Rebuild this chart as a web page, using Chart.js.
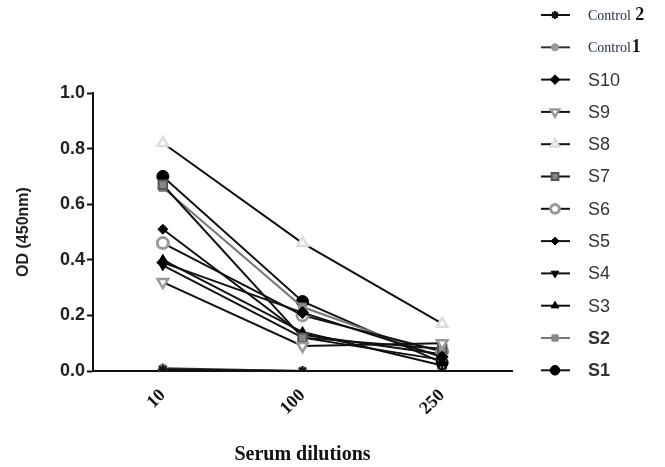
<!DOCTYPE html>
<html lang="en">
<head>
    <meta charset="UTF-8">
    <title>Serum dilutions</title>
    <script src="https://cdn.jsdelivr.net/npm/chart.js@4.4.1/dist/chart.umd.min.js"></script>
    <style>
        html, body { margin: 0; padding: 0; background: #fff; }
        #wrap { width: 665px; height: 467px; }
    </style>
</head>
<body>
<div id="wrap"><canvas id="chart" width="665" height="467"></canvas></div>
<script>
    // data
    const dilutions = ['10', '100', '250'];
    const yTicks = [0, 0.2, 0.4, 0.6, 0.8, 1.0];

    const s1 = [0.70, 0.25, 0.03];
    const s2 = [0.66, 0.23, 0.05];
    const s3 = [0.40, 0.14, 0.02];
    const s4 = [0.38, 0.12, 0.04];
    const s5 = [0.51, 0.13, 0.06];
    const s6 = [0.46, 0.20, 0.07];
    const s7 = [0.67, 0.12, 0.08];
    const s8 = [0.82, 0.46, 0.17];
    const s9 = [0.32, 0.09, 0.10];
    const s10 = [0.39, 0.21, 0.05];
    const control1 = [0.01, 0.0, 0.0];
    const control2 = [0.005, 0.0, 0.0];

    // legend order, top to bottom
    const legendNames = ['Control 2', 'Control 1', 'S10', 'S9', 'S8', 'S7', 'S6', 'S5', 'S4', 'S3', 'S2', 'S1'];

    function series(label, data, opts) {
        return Object.assign({
            label: label,
            data: data,
            borderColor: '#111',
            borderWidth: 2,
            pointBackgroundColor: '#111',
            pointBorderColor: '#111',
            pointBorderWidth: 1,
            pointRadius: 5,
            pointStyle: 'circle',
            pointRotation: 0,
            tension: 0
        }, opts);
    }

    const datasets = [
        series('Control 2', control2, { pointStyle: 'star', pointRadius: 5, pointBorderWidth: 2 }),
        series('Control 1', control1, { pointBackgroundColor: '#999', pointBorderColor: '#999', pointRadius: 4.5, borderColor: '#333' }),
        series('S10', s10, { pointStyle: 'rectRot', pointRadius: 6, pointBackgroundColor: '#000', pointBorderColor: '#000' }),
        series('S9', s9, { pointStyle: 'triangle', pointRotation: 180, pointRadius: 6, pointBackgroundColor: '#fff', pointBorderColor: '#999', pointBorderWidth: 2.5 }),
        series('S8', s8, { pointStyle: 'triangle', pointRadius: 6, pointBackgroundColor: '#fff', pointBorderColor: '#ddd', pointBorderWidth: 2.5 }),
        series('S7', s7, { pointStyle: 'rect', pointRadius: 6, pointBackgroundColor: '#888', pointBorderColor: '#555', pointBorderWidth: 2 }),
        series('S6', s6, { pointStyle: 'circle', pointRadius: 5.5, pointBackgroundColor: '#fff', pointBorderColor: '#999', pointBorderWidth: 3 }),
        series('S5', s5, { pointStyle: 'rectRot', pointRadius: 5, pointBackgroundColor: '#000', pointBorderColor: '#000' }),
        series('S4', s4, { pointStyle: 'triangle', pointRotation: 180, pointRadius: 5.5, pointBackgroundColor: '#000', pointBorderColor: '#000' }),
        series('S3', s3, { pointStyle: 'triangle', pointRadius: 5.5, pointBackgroundColor: '#000', pointBorderColor: '#000' }),
        series('S2', s2, { pointStyle: 'rect', pointRadius: 5.5, pointBackgroundColor: '#888', pointBorderColor: '#888', borderColor: '#777' }),
        series('S1', s1, { pointStyle: 'circle', pointRadius: 6, pointBackgroundColor: '#000', pointBorderColor: '#000' })
    ];

    // legend on the right, drawn on the same canvas
    const sideLegend = {
        id: 'sideLegend',
        afterDraw(chart) {
            const ctx = chart.ctx;
            legendNames.forEach((name, i) => {
                const ds = chart.data.datasets.find(d => d.label === name);
                const y = 15 + i * 32.3;
                ctx.save();
                ctx.strokeStyle = ds.borderColor;
                ctx.lineWidth = 2;
                ctx.beginPath();
                ctx.moveTo(541, y);
                ctx.lineTo(570, y);
                ctx.stroke();
                ctx.fillStyle = ds.pointBackgroundColor;
                ctx.strokeStyle = ds.pointBorderColor;
                ctx.lineWidth = ds.pointBorderWidth;
                Chart.helpers.drawPoint(ctx, {
                    pointStyle: ds.pointStyle,
                    radius: ds.pointRadius * 0.8,
                    rotation: ds.pointRotation,
                    borderWidth: ds.pointBorderWidth
                }, 555, y);
                ctx.textBaseline = 'middle';
                ctx.textAlign = 'left';
                if (name.startsWith('Control')) {
                    const parts = name.split(' ');
                    const head = parts[0] + (parts[1] === '2' ? ' ' : '');
                    ctx.fillStyle = '#1f2a44';
                    ctx.font = '14px "Liberation Serif"';
                    ctx.fillText(head, 588, y + 1);
                    const w = ctx.measureText(head).width;
                    ctx.fillStyle = '#111';
                    ctx.font = 'bold 18px "Liberation Serif"';
                    ctx.fillText(parts[1], 588 + w + 1, y);
                } else {
                    ctx.fillStyle = '#333';
                    ctx.font = (name === 'S1' || name === 'S2' ? 'bold ' : '') + '18px "Liberation Sans"';
                    ctx.fillText(name, 588, y + 1);
                }
                ctx.restore();
            });
        }
    };

    new Chart(document.getElementById('chart').getContext('2d'), {
        type: 'line',
        data: { labels: dilutions, datasets: datasets },
        options: {
            responsive: false,
            animation: false,
            layout: { padding: { left: 14, right: 153, top: 93, bottom: 0 } },
            plugins: {
                legend: { display: false },
                tooltip: { enabled: false }
            },
            scales: {
                x: {
                    offset: true,
                    afterFit(scale) { scale.height = 96; },
                    grid: { display: false, drawOnChartArea: false, drawTicks: true, tickLength: 6, tickColor: '#111', tickWidth: 2, offset: false },
                    border: { display: true, color: '#111', width: 2 },
                    ticks: {
                        color: '#111',
                        font: { family: '"Liberation Serif"', size: 18, weight: 'bold' },
                        minRotation: 45,
                        maxRotation: 45,
                        padding: 8
                    },
                    title: {
                        display: true,
                        text: 'Serum dilutions',
                        color: '#111',
                        font: { family: '"Liberation Serif"', size: 20, weight: 'bold' },
                        padding: { top: 0, bottom: 0 }
                    }
                },
                y: {
                    min: 0,
                    max: 1.0,
                    afterFit(scale) { scale.width = 79; },
                    afterBuildTicks(scale) { scale.ticks = yTicks.map(v => ({ value: v })); },
                    grid: { display: true, drawOnChartArea: false, drawTicks: true, tickLength: 6, tickColor: '#111', tickWidth: 2 },
                    border: { display: true, color: '#111', width: 2 },
                    ticks: {
                        color: '#222',
                        font: { family: '"Liberation Sans"', size: 18, weight: 'bold' },
                        padding: 2,
                        callback: v => Number(v).toFixed(1)
                    },
                    title: {
                        display: true,
                        text: 'OD (450nm)',
                        color: '#222',
                        font: { family: '"Liberation Sans"', size: 16, weight: 'bold' },
                        padding: { top: 0, bottom: 4 }
                    }
                }
            }
        },
        plugins: [sideLegend]
    });
</script>
</body>
</html>
